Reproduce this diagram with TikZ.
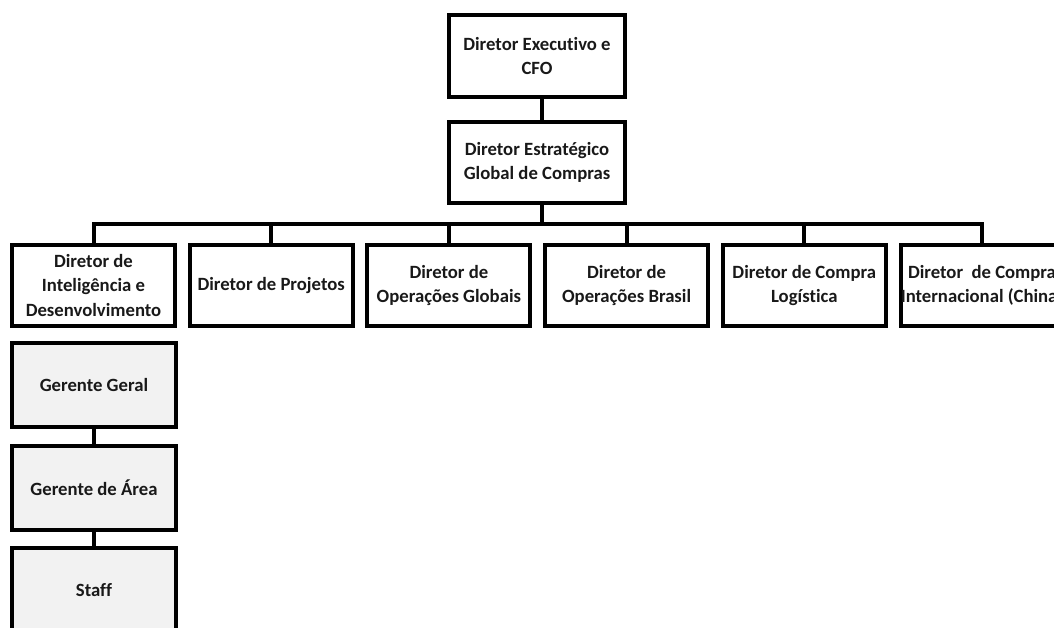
\documentclass[tikz,border=0pt]{standalone}
\usepackage{fontspec}
\setmainfont{Carlito}[Ligatures=NoCommon]
\begin{document}
\begin{tikzpicture}[x=1pt,y=-1pt,
  box/.style={draw=black,line width=4pt,align=center,inner sep=0pt,
    font=\bfseries\fontsize{18.7}{24.5}\selectfont,text=black!90},
  topbox/.style={box,minimum width=176pt,minimum height=82pt},
  rowbox/.style={box,minimum width=163pt,minimum height=81pt},
  graybox/.style={box,fill=black!5,minimum width=164pt,minimum height=84pt},
  link/.style={line width=4pt}]
\useasboundingbox (0,0) rectangle (1054,627);
\clip (0,0) rectangle (1054,627);
\node[topbox] (ceo) at (537,56) {Diretor Executivo e\\CFO};
\node[topbox,minimum height=81pt] (dg) at (537,162.5) {Diretor Estratégico\\Global de Compras};
\node[rowbox] (d1) at (93.5,285.5) {Diretor de\\Inteligência e\\Desenvolvimento};
\node[rowbox] (d2) at (271.2,285.5) {Diretor de Projetos};
\node[rowbox] (d3) at (448.9,285.5) {Diretor de\\Operações Globais};
\node[rowbox] (d4) at (626.6,285.5) {Diretor de\\Operações Brasil};
\node[rowbox] (d5) at (804.3,285.5) {Diretor de Compra\\Logística};
\node[rowbox] (d6) at (982,285.5) {Diretor\ \ de Compra\\Internacional (China)};
\node[graybox] (g1) at (94,385) {Gerente Geral};
\node[graybox] (g2) at (94,487.5) {Gerente de Área};
\node[graybox] (g3) at (94,590) {Staff};
\coordinate (cx) at (542,0);
\coordinate (bus) at (542,224);
\draw[link] (ceo.south -| cx) -- (dg.north -| cx);
\draw[link] (dg.south -| cx) -- (bus);
\draw[link] (d1.north) -- (d1.north |- bus) -- (d6.north |- bus) -- (d6.north);
\foreach \n in {d2,d3,d4,d5}{\draw[link] (\n.north |- bus) -- (\n.north);}
\draw[link] (g1.south -| d1.south) -- (g2.north -| d1.south);
\draw[link] (g2.south -| d1.south) -- (g3.north -| d1.south);
\end{tikzpicture}
\end{document}
